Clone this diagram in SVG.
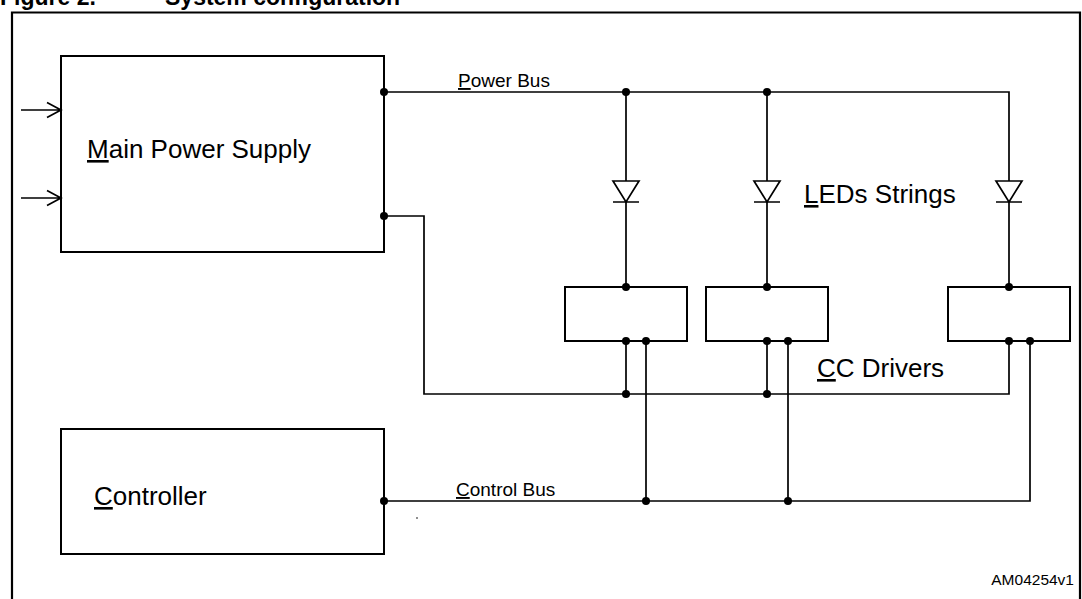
<svg xmlns="http://www.w3.org/2000/svg" width="1082" height="599" viewBox="0 0 1082 599">
<style>
text{font-family:"Liberation Sans",Arial,sans-serif;fill:#000}
.big{font-size:26px}
.small{font-size:19px}
.box{fill:none;stroke:#000;stroke-width:2}
.wire{fill:none;stroke:#000;stroke-width:1.7}
.dot{fill:#000}
.u{text-decoration:underline}
</style>
<defs>
<g id="diode"><path d="M-13,0 H13 L0,21 Z M-13,21 H13" fill="#fff" stroke="#000" stroke-width="1.7"/></g>
</defs>
<rect width="1082" height="599" fill="#fff"/>
<text x="0" y="5" font-size="23" font-weight="bold">Figure 2.</text>
<text x="165" y="5" font-size="23" font-weight="bold">System configuration</text>
<path d="M12,599 V12.5 H1080 V599" fill="none" stroke="#000" stroke-width="2.2"/>

<g id="main-power-supply">
<rect class="box" x="61" y="56" width="323" height="196"/>
<text class="big" x="87" y="158"><tspan class="u">M</tspan>ain Power Supply</text>
</g>
<g id="controller">
<rect class="box" x="61" y="429" width="323" height="125"/>
<text class="big" x="94" y="505"><tspan class="u">C</tspan>ontroller</text>
</g>
<g id="driver-1"><rect class="box" x="565" y="287" width="122" height="54"/></g>
<g id="driver-2"><rect class="box" x="706" y="287" width="122" height="54"/></g>
<g id="driver-3"><rect class="box" x="948" y="287" width="122" height="54"/></g>
<g id="leds-label"><text class="big" x="804" y="203"><tspan class="u">L</tspan>EDs Strings</text></g>
<g id="cc-label"><text class="big" x="817" y="377"><tspan class="u">C</tspan>C Drivers</text></g>

<g id="connectors">
<path class="wire" d="M384,92 H1009 V287 M626,92 V287 M767,92 V287"/>
<path class="wire" d="M384,216 H424 V394 H1009 V341 M626,341 V394 M767,341 V394"/>
<path class="wire" d="M384,501 H1030 V341 M646,341 V501 M788,341 V501"/>
<path class="wire" d="M21,110 H61 M47,102.5 L61,110 L47,117.5 M21,198 H61 M47,190.5 L61,198 L47,205.5"/>
<use href="#diode" x="626" y="181"/>
<use href="#diode" x="767" y="181"/>
<use href="#diode" x="1009" y="181"/>
<g class="dot">
<circle cx="384" cy="92" r="4"/><circle cx="384" cy="216" r="4"/>
<circle cx="626" cy="92" r="4"/><circle cx="767" cy="92" r="4"/>
<circle cx="626" cy="287" r="4"/><circle cx="767" cy="287" r="4"/><circle cx="1009" cy="287" r="4"/>
<circle cx="626" cy="341" r="4"/><circle cx="646" cy="341" r="4"/>
<circle cx="767" cy="341" r="4"/><circle cx="788" cy="341" r="4"/>
<circle cx="1009" cy="341" r="4"/><circle cx="1030" cy="341" r="4"/>
<circle cx="626" cy="394" r="4"/><circle cx="767" cy="394" r="4"/>
<circle cx="384" cy="501" r="4"/><circle cx="646" cy="501" r="4"/><circle cx="788" cy="501" r="4"/>
<circle cx="417" cy="518" r="0.8"/>
</g>
<text class="small" x="458" y="87"><tspan class="u">P</tspan>ower Bus</text>
<text class="small" x="456" y="496"><tspan class="u">C</tspan>ontrol Bus</text>
</g>
<text x="1074" y="585" font-size="15.5" text-anchor="end">AM04254v1</text>
</svg>
